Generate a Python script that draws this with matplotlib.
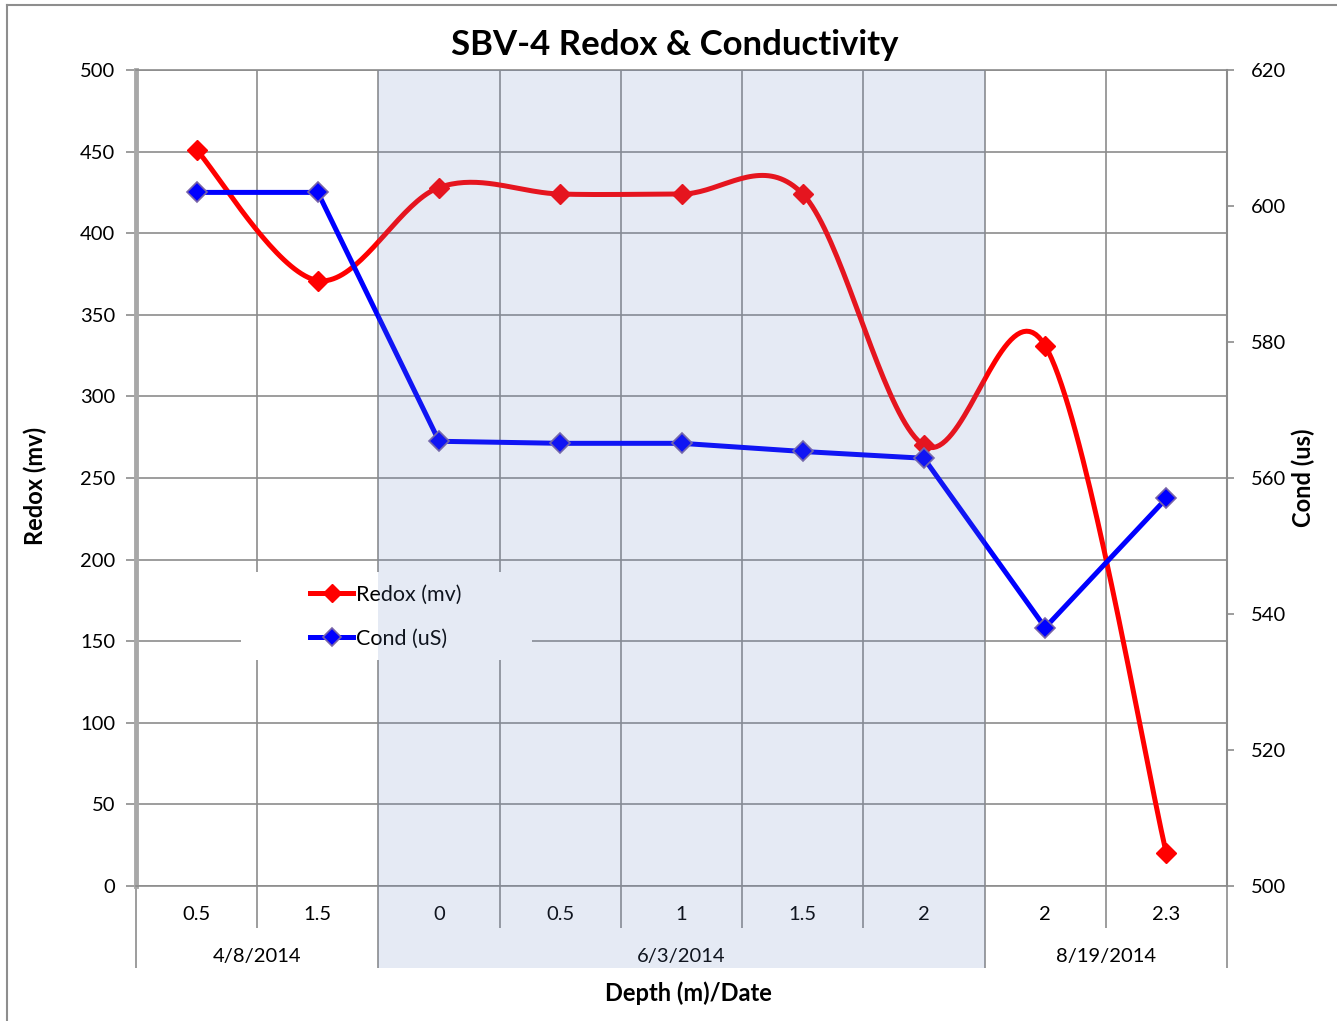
#!/usr/bin/env python3

import numpy as np
import matplotlib
matplotlib.use("Agg")
import matplotlib.pyplot as plt
from matplotlib.lines import Line2D
from matplotlib.patches import Rectangle
from matplotlib.transforms import blended_transform_factory

# data
depths = ["0.5", "1.5", "0", "0.5", "1", "1.5", "2", "2", "2.3"]
dates = ["4/8/2014", "6/3/2014", "8/19/2014"]
date_counts = [2, 5, 2]
redox = [451, 371, 428, 424, 424, 424, 270, 331, 20]
cond = [602, 602, 565.4, 565.1, 565.1, 563.9, 562.9, 538, 557]
shaded_date = 1  # the middle sampling date gets the blue band

plt.rcParams['font.family'] = ['Lato', 'DejaVu Sans']

GRID = '#8C8C8C'
FS = 14.5


def smooth(x, y, n=40):
    """Excel-style smoothed line: Catmull-Rom segments as cubic Beziers."""
    p = np.column_stack([x, y]).astype(float)
    p = np.vstack([p[0], p, p[-1]])
    t = np.linspace(0, 1, n)[:, None]
    pts = [p[1][None, :]]
    for i in range(1, len(p) - 2):
        p0, p1, p2, p3 = p[i - 1], p[i], p[i + 1], p[i + 2]
        c1 = p1 + (p2 - p0) / 6
        c2 = p2 - (p3 - p1) / 6
        seg = ((1 - t) ** 3 * p1 + 3 * (1 - t) ** 2 * t * c1
               + 3 * (1 - t) * t ** 2 * c2 + t ** 3 * p2)
        pts.append(seg[1:])
    pts = np.vstack(pts)
    return pts[:, 0], pts[:, 1]


fig = plt.figure(figsize=(13.37, 10.21), dpi=100)
ax = fig.add_axes([136 / 1337, 135 / 1021, 1091 / 1337, 816 / 1021])
ax2 = ax.twinx()

x = np.arange(len(depths))
ax.set_xlim(-0.5, len(depths) - 0.5)
ax.set_ylim(0, 500)
ax.set_yticks(np.arange(0, 501, 50))
ax2.set_ylim(500, 620)
ax2.set_yticks(np.arange(500, 621, 20))

# category boundaries: long ticks between dates, short ones inside a date
edges = np.concatenate([[0], np.cumsum(date_counts)]) - 0.5
inner = [b - 0.5 for b in range(1, len(depths)) if b - 0.5 not in edges]
ax.set_xticks(edges)
ax.set_xticks(inner, minor=True)
ax.tick_params(axis='x', which='major', length=59, width=1.2, color=GRID,
               labelbottom=False)
ax.tick_params(axis='x', which='minor', length=30, width=1.2, color=GRID)
ax.tick_params(axis='y', length=7, width=1.2, color=GRID, pad=8, labelsize=FS)
ax2.tick_params(axis='y', length=5, width=1.2, color=GRID, pad=12, labelsize=FS)

ax.grid(True, which='both', color=GRID, lw=1.2)
for s in ['top', 'bottom']:
    ax.spines[s].set_color(GRID)
    ax.spines[s].set_linewidth(1.2)
ax.spines['left'].set_color('#A8A8A8')
ax.spines['left'].set_linewidth(3.5)
ax.spines['right'].set_visible(False)
ax2.spines['right'].set_color(GRID)
ax2.spines['right'].set_linewidth(1.5)
for s in ['top', 'bottom', 'left']:
    ax2.spines[s].set_visible(False)

# category and date labels under the axis
tr = blended_transform_factory(ax.transData, ax.transAxes)
for xi, d in zip(x, depths):
    ax.text(xi, -0.0355, d, transform=tr, ha='center', va='center', fontsize=FS)
for i, d in enumerate(dates):
    mid = (edges[i] + edges[i + 1]) / 2
    ax.text(mid, -0.086, d, transform=tr, ha='center', va='center', fontsize=FS)

# series
sx, sy = smooth(x, redox)
ax.plot(sx, sy, color='#FF0000', lw=3.6, solid_capstyle='round', zorder=3)
ax.plot(x, redox, ls='none', marker='D', ms=10.5, color='#FF0000', zorder=4)
ax2.plot(x, cond, color='#0000FF', lw=3.6, marker='D', ms=10.5,
         mfc='#0000FF', mec='#7864A8', mew=1.2, zorder=3)

# white legend backing that hides the grid
ax.add_patch(Rectangle((0.0962, 0.277), 0.2667, 0.108, transform=ax.transAxes,
                       fc='white', ec='none', zorder=1.8))
handles = [Line2D([], [], color='#FF0000', lw=3.6, marker='D', ms=9),
           Line2D([], [], color='#0000FF', lw=3.6, marker='D', ms=9,
                  mfc='#0000FF', mec='#7864A8', mew=1.2)]
ax2.legend(handles, ['Redox (mv)', 'Cond (uS)'], loc='upper left',
           bbox_to_anchor=(0.1595, 0.369), frameon=False, fontsize=15.5,
           handlelength=2.0, handletextpad=0.15, labelspacing=1.1,
           borderpad=0, borderaxespad=0)

# translucent band over the middle date, down through its labels
band = Rectangle((edges[shaded_date], -0.1005),
                 edges[shaded_date + 1] - edges[shaded_date], 1.1005,
                 transform=tr, fc=(100 / 255, 130 / 255, 190 / 255),
                 alpha=0.165, ec='none', zorder=10, clip_on=False)
ax2.add_patch(band)

# titles
fig.text(0.505, 0.956, 'SBV-4 Redox & Conductivity', ha='center', va='center',
         fontsize=25, fontweight='bold')
fig.text(0.0262, 0.524, 'Redox (mv)', rotation=90, ha='center', va='center',
         fontsize=17, fontweight='bold')
fig.text(0.9746, 0.532, 'Cond (us)', rotation=90, ha='center', va='center',
         fontsize=17, fontweight='bold')
fig.text(0.515, 0.0274, 'Depth (m)/Date', ha='center', va='center',
         fontsize=17, fontweight='bold')

# chart border (left and top edges show)
fig.add_artist(Line2D([7 / 1337, 7 / 1337], [0, 1 - 5 / 1021],
                      transform=fig.transFigure, color='#8E8E8E', lw=1.5))
fig.add_artist(Line2D([7 / 1337, 1], [1 - 5 / 1021, 1 - 5 / 1021],
                      transform=fig.transFigure, color='#8E8E8E', lw=1.5))

fig.savefig('out.png', dpi=100)
